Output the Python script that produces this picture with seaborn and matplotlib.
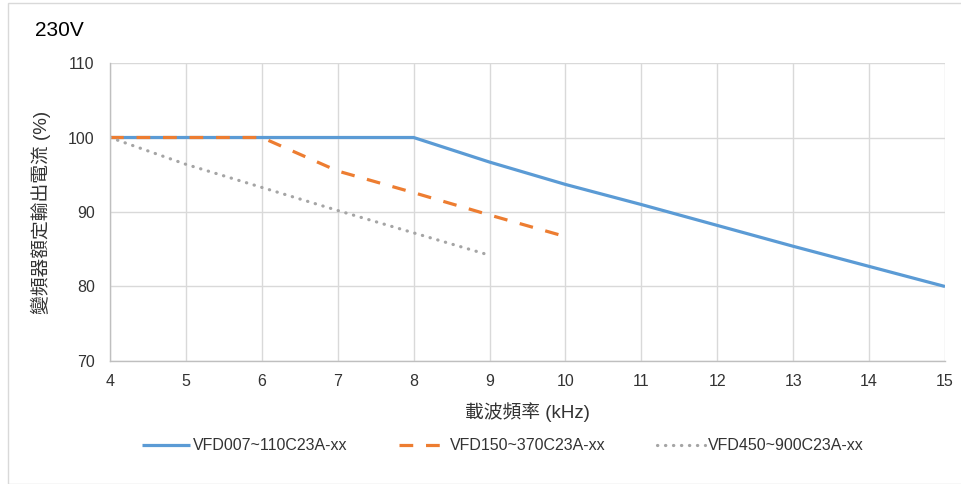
import matplotlib
matplotlib.use("Agg")
import matplotlib.pyplot as plt
import seaborn as sns
import pandas as pd
from matplotlib.patches import Rectangle

freq_a = [4, 5, 6, 7, 8, 9, 10, 11, 12, 13, 14, 15]
vals_a = [100, 100, 100, 100, 100, 96.7, 93.7, 91.0, 88.2, 85.4, 82.7, 80]
freq_b = [4, 5, 6, 7, 8, 9, 10]
vals_b = [100, 100, 100, 95.5, 92.6, 89.6, 86.7]
freq_c = [4, 5, 6, 7, 8, 9]
vals_c = [100, 96.4, 93.3, 90.2, 87.2, 84.2]
names = ["VFD007~110C23A-xx", "VFD150~370C23A-xx", "VFD450~900C23A-xx"]
xticks = list(range(4, 16))
yticks = [70, 80, 90, 100, 110]

df = pd.concat([
    pd.DataFrame({"x": freq_a, "y": vals_a, "s": names[0]}),
    pd.DataFrame({"x": freq_b, "y": vals_b, "s": names[1]}),
    pd.DataFrame({"x": freq_c, "y": vals_c, "s": names[2]}),
])

sns.set_style("white")
fam = ["Liberation Sans", "Noto Sans CJK TC"]
plt.rcParams["font.family"] = fam

fig = plt.figure(figsize=(9.62, 4.84), dpi=100)
ax = fig.add_axes([110/962, 1-361/484, (945-110)/962, (361-63)/484])

colors = ["#5B9BD5", "#ED7D31", "#A5A5A5"]
dash_list = ["", (4.3, 4.0), (0.1, 2.4)]
palette = dict(zip(names, colors))
dashes = dict(zip(names, dash_list))
lw = 2.3
sns.lineplot(data=df, x="x", y="y", hue="s", style="s", palette=palette,
             dashes=dashes, linewidth=lw, ax=ax, legend=False, sort=False)
ax.lines[0].set_solid_capstyle("butt")
ax.lines[1].set_dash_capstyle("butt")
ax.lines[2].set_dash_capstyle("round")

ax.set_xlim(4, 15)
ax.set_ylim(70, 110)
ax.set_xticks(xticks)
ax.set_yticks(yticks)
ax.grid(True, color="#d9d9d9", linewidth=1)
ax.set_axisbelow(True)
for s in ["top", "right"]:
    ax.spines[s].set_visible(False)
for s in ["left", "bottom"]:
    ax.spines[s].set_color("#bfbfbf")
    ax.spines[s].set_linewidth(1)
ax.tick_params(axis="both", length=0, labelsize=11.5, colors="#333333")
ax.tick_params(axis="y", pad=11)
ax.tick_params(axis="x", pad=9)
ax.set_xlabel("載波頻率 (kHz)", fontsize=13.5, color="#333333", labelpad=10)
ax.set_ylabel("變頻器額定輸出電流 (%)", fontsize=13.5, color="#333333", labelpad=12)

fig.text(35/962, 1-30/484, "230V", fontsize=15, color="black", va="center", ha="left")

handles = []
for c, d in zip(colors, dash_list):
    if d == "":
        h = plt.Line2D([], [], color=c, linewidth=lw, solid_capstyle="butt")
    else:
        h = plt.Line2D([], [], color=c, linewidth=lw, dashes=d,
                       dash_capstyle="round" if d[0] < 1 else "butt")
    handles.append(h)
fig.legend(handles, names, loc="center", bbox_to_anchor=(503/962, 1-446/484), ncol=3,
           frameon=False, fontsize=11.5, handlelength=3.0, columnspacing=3.2, handletextpad=0.2,
           labelcolor="#333333")

fig.patches.append(Rectangle((8/962, 0), 1, 1-3/484, transform=fig.transFigure,
                             fill=False, edgecolor="#d9d9d9", linewidth=1))

fig.savefig("out.png", dpi=100)
